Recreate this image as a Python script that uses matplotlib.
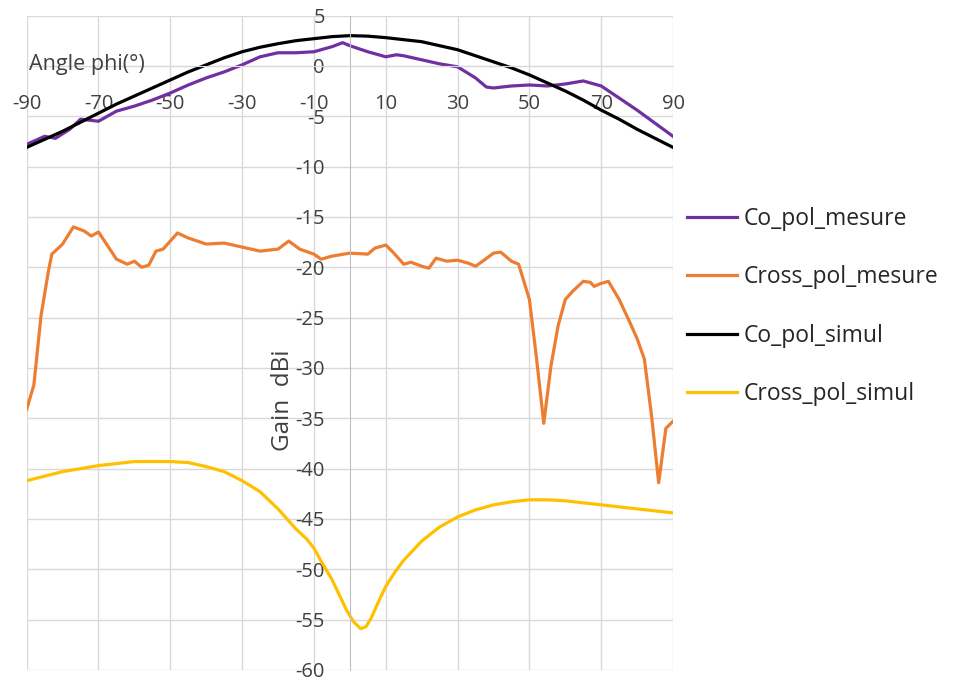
import matplotlib
matplotlib.use("Agg")
import matplotlib.pyplot as plt

# ---- data ----
x_co_sim = [-90, -85, -80, -75, -70, -65, -60, -55, -50, -45, -40, -35, -30, -25, -20, -15, -10, -5,
            0, 5, 10, 15, 20, 25, 30, 35, 40, 45, 50, 55, 60, 65, 70, 75, 80, 85, 90]
co_pol_simul = [-8.1, -7.3, -6.5, -5.6, -4.7, -3.8, -3.0, -2.2, -1.4, -0.6, 0.1, 0.8, 1.4, 1.85, 2.2, 2.5, 2.7, 2.9,
                3.0, 2.95, 2.8, 2.6, 2.4, 2.0, 1.6, 1.0, 0.4, -0.2, -0.9, -1.7, -2.5, -3.4, -4.4, -5.3, -6.3, -7.2, -8.1]

x_co_mes = [-90, -85, -82, -78, -75, -70, -65, -60, -55, -50, -45, -40, -35, -30, -25, -20, -15, -10, -5,
            -2, 0, 5, 10, 13, 15, 20, 25, 30, 35, 38, 40, 45, 50, 55, 60, 65, 70, 75, 80, 85, 90]
co_pol_mesure = [-7.8, -7.0, -7.2, -6.3, -5.3, -5.5, -4.5, -4.0, -3.4, -2.7, -1.9, -1.2, -0.6, 0.1, 0.9, 1.3, 1.3, 1.4, 1.9,
                 2.3, 2.0, 1.4, 0.9, 1.1, 1.0, 0.6, 0.2, -0.1, -1.2, -2.1, -2.2, -2.0, -1.9, -2.0, -1.8, -1.5, -2.0, -3.2, -4.4, -5.7, -7.0]

x_cross_mes = [-90, -88, -86, -84, -83, -80, -77, -74, -72, -70, -65, -62, -60, -58, -56, -54, -52, -50, -48, -45,
               -40, -35, -30, -25, -20, -17, -14, -10, -8, -5, 0, 5, 7, 10, 12, 15, 17, 20, 22, 24, 27, 30,
               33, 35, 37, 40, 42, 45, 47, 50, 52, 54, 56, 58, 60, 62, 65, 67, 68, 70, 72, 75, 78, 80, 82,
               84, 86, 88, 90]
cross_pol_mesure = [-34.1, -31.7, -24.8, -20.5, -18.7, -17.7, -16.0, -16.4, -16.9, -16.5, -19.2, -19.7, -19.4, -20.0, -19.8,
                    -18.4, -18.2, -17.4, -16.6, -17.1, -17.7, -17.6, -18.0, -18.4, -18.2, -17.4, -18.2, -18.7, -19.2, -18.9,
                    -18.6, -18.7, -18.1, -17.8, -18.5, -19.7, -19.5, -19.9, -20.1, -19.1, -19.4, -19.3, -19.6, -19.9, -19.4,
                    -18.6, -18.5, -19.4, -19.7, -23.2, -29.1, -35.5, -29.8, -25.8, -23.2, -22.4, -21.4, -21.5, -21.9, -21.6,
                    -21.4, -23.2, -25.5, -27.1, -29.1, -34.7, -41.4, -36.0, -35.3]

x_cross_sim = [-90, -80, -70, -60, -50, -45, -40, -35, -30, -25, -20, -15, -12, -10, -8, -5, -3, -1, 1, 3, 4.5,
               6, 8, 10, 12.5, 15, 20, 25, 30, 35, 40, 45, 50, 55, 60, 65, 70, 75, 80, 85, 90]
cross_pol_simul = [-41.2, -40.3, -39.7, -39.3, -39.3, -39.4, -39.8, -40.3, -41.2, -42.3, -44.0, -46.0, -47.0, -47.9,
                   -49.2, -51.0, -52.5, -54.0, -55.2, -55.9, -55.7, -54.8, -53.2, -51.7, -50.3, -49.1, -47.2, -45.8,
                   -44.8, -44.1, -43.6, -43.3, -43.1, -43.1, -43.2, -43.4, -43.6, -43.8, -44.0, -44.2, -44.4]

x_ticks = list(range(-90, 91, 20))
y_ticks = list(range(-60, 6, 5))

# ---- figure ----
plt.rcParams['font.family'] = ['Open Sans', 'DejaVu Sans']
plt.rcParams['axes.unicode_minus'] = False
fig = plt.figure(figsize=(9.63, 6.89), dpi=100)
ax = fig.add_axes([0.0277, 0.0276, 0.6712, 0.9499])

grid_c = '#d9d9d9'
ax.set_xlim(-90, 90)
ax.set_ylim(-60, 5)
ax.set_xticks(x_ticks)
ax.set_yticks(y_ticks)
ax.grid(True, color=grid_c, linewidth=1.0)
ax.set_axisbelow(True)
for s in ['top', 'right']:
    ax.spines[s].set_visible(False)
ax.spines['left'].set_position(('data', 0))
ax.spines['bottom'].set_position(('data', 0))
ax.spines['left'].set_color('#bfbfbf')
ax.spines['bottom'].set_color(grid_c)
ax.tick_params(axis='both', length=0, labelsize=14.5, colors='#404040')
ax.tick_params(axis='y', pad=18)
ax.tick_params(axis='x', pad=20)

lw = 2.3
ax.plot(x_co_mes, co_pol_mesure, color='#7030A0', lw=lw, label='Co_pol_mesure')
ax.plot(x_cross_mes, cross_pol_mesure, color='#ED7D31', lw=lw, label='Cross_pol_mesure')
ax.plot(x_co_sim, co_pol_simul, color='black', lw=lw, label='Co_pol_simul')
ax.plot(x_cross_sim, cross_pol_simul, color='#FFC000', lw=lw, label='Cross_pol_simul')

ax.text(0.004, 0.925, 'Angle phi(°)', transform=ax.transAxes, fontsize=15.5, color='#404040',
        ha='left', va='center')
ax.text(0.396, 0.412, 'Gain  dBi', transform=ax.transAxes, fontsize=17.5, color='#404040',
        rotation=90, ha='center', va='center')

handles, labels = ax.get_legend_handles_labels()
fig.legend(handles, labels, loc='center left', bbox_to_anchor=(0.713, 0.555), frameon=False,
           fontsize=16.5, handlelength=2.2, handletextpad=0.3, labelspacing=1.5,
           borderpad=0, borderaxespad=0, labelcolor='#262626')

fig.savefig('out.png', dpi=100)
